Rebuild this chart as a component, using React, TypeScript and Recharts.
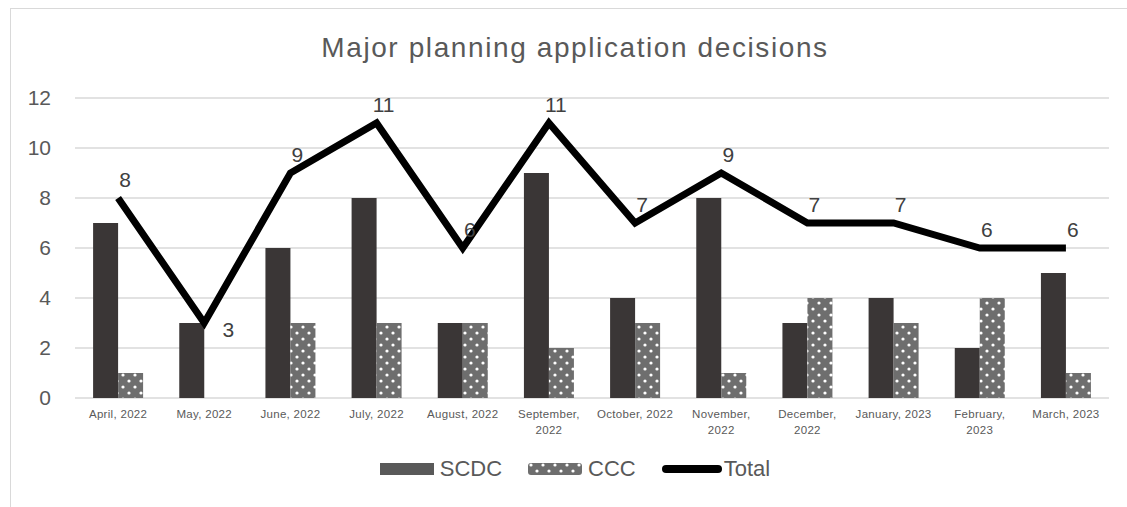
import { ComposedChart, Bar, Line, XAxis, YAxis, CartesianGrid, LabelList } from "recharts";

const months = [
  "April, 2022",
  "May, 2022",
  "June, 2022",
  "July, 2022",
  "August, 2022",
  "September, 2022",
  "October, 2022",
  "November, 2022",
  "December, 2022",
  "January, 2023",
  "February, 2023",
  "March, 2023",
];
const scdc = [7, 3, 6, 8, 3, 9, 4, 8, 3, 4, 2, 5];
const ccc = [1, 0, 3, 3, 3, 2, 3, 1, 4, 3, 4, 1];
const total = [8, 3, 9, 11, 6, 11, 7, 9, 7, 7, 6, 6];
const yTicks = [0, 2, 4, 6, 8, 10, 12];

const data = months.map((m, i) => ({ month: m, SCDC: scdc[i], CCC: ccc[i], Total: total[i] }));

const FONT = "'Liberation Sans', Arial, sans-serif";
const TEXT = "#595959";

function MonthTick({ x, y, payload }: any) {
  const label: string = payload.value;
  // long labels wrap after the comma, like the original
  const lines = label.length >= 14 ? [label.split(" ")[0], label.split(" ")[1]] : [label];
  return (
    <text x={x} y={y + 12} textAnchor="middle" fontSize={11.5} fill={TEXT} fontFamily={FONT} letterSpacing={0.3}>
      {lines.map((l, i) => (
        <tspan key={i} x={x} dy={i === 0 ? 0 : 16}>
          {l}
        </tspan>
      ))}
    </text>
  );
}

function TotalLabel({ x, y, value, index }: any) {
  // May sits in a dip, so its label goes to the right
  const dip = index === 1;
  return (
    <text
      x={dip ? x + 24 : x + 7}
      y={dip ? y + 14 : y - 11}
      textAnchor="middle"
      fontSize={21}
      fill="#404040"
      fontFamily={FONT}
    >
      {value}
    </text>
  );
}

function ChartLegend() {
  const item = { display: "flex", alignItems: "center", gap: 6 } as const;
  return (
    <div style={{ display: "flex", justifyContent: "center", gap: 26, fontFamily: FONT, fontSize: 22, color: TEXT }}>
      <div style={item}>
        <svg width={54} height={14}>
          <rect x={0} y={1} width={54} height={12} fill="#595959" />
        </svg>
        <span>SCDC</span>
      </div>
      <div style={item}>
        <svg width={54} height={14}>
          <rect x={0} y={1} width={54} height={12} rx={3} fill="url(#dots)" />
        </svg>
        <span>CCC</span>
      </div>
      <div style={{ ...item, gap: 2 }}>
        <svg width={60} height={14}>
          <line x1={4} y1={7} x2={56} y2={7} stroke="#000" strokeWidth={8} strokeLinecap="round" />
        </svg>
        <span>Total</span>
      </div>
    </div>
  );
}

export default function App() {
  return (
    <div
      style={{
        position: "absolute",
        left: 0,
        top: 0,
        width: 1127,
        height: 507,
        background: "#fff",
        overflow: "hidden",
      }}
    >
      <svg width={0} height={0} style={{ position: "absolute" }}>
        <defs>
          <pattern id="dots" width={12} height={12} patternUnits="userSpaceOnUse">
            <rect width={12} height={12} fill="#6e6e6e" />
            <circle cx={3} cy={3} r={1.6} fill="#fff" />
            <circle cx={9} cy={9} r={1.6} fill="#fff" />
          </pattern>
        </defs>
      </svg>
      <div
        style={{
          position: "absolute",
          left: 10,
          top: 8,
          width: 1140,
          height: 520,
          border: "1.5px solid #d9d9d9",
        }}
      />
      <div
        style={{
          position: "absolute",
          top: 32,
          left: 0,
          width: 1150,
          textAlign: "center",
          fontFamily: FONT,
          fontSize: 28,
          letterSpacing: 1.6,
          color: TEXT,
        }}
      >
        Major planning application decisions
      </div>
      <div style={{ position: "absolute", left: 0, top: 0 }}>
        <ComposedChart
          width={1127}
          height={507}
          data={data}
          margin={{ top: 98, right: 18, bottom: 62, left: 10 }}
          barCategoryGap="21%"
          barGap={0}
        >
          <CartesianGrid vertical={false} stroke="#d9d9d9" strokeWidth={1.5} />
          <XAxis
            dataKey="month"
            axisLine={false}
            tickLine={false}
            interval={0}
            height={47}
            tick={<MonthTick />}
          />
          <YAxis
            width={65}
            domain={[0, 12]}
            ticks={yTicks}
            axisLine={false}
            tickLine={false}
            tickSize={0}
            tickMargin={24}
            tick={{ fontSize: 21, fill: TEXT, fontFamily: FONT }}
          />
          <Bar dataKey="SCDC" fill="#3a3636" isAnimationActive={false} />
          <Bar dataKey="CCC" fill="url(#dots)" isAnimationActive={false} />
          <Line
            dataKey="Total"
            stroke="#000"
            strokeWidth={7}
            dot={false}
            activeDot={false}
            isAnimationActive={false}
          >
            <LabelList dataKey="Total" content={<TotalLabel />} />
          </Line>
        </ComposedChart>
      </div>
      <div style={{ position: "absolute", left: 0, top: 456, width: 1150 }}>
        <ChartLegend />
      </div>
    </div>
  );
}
